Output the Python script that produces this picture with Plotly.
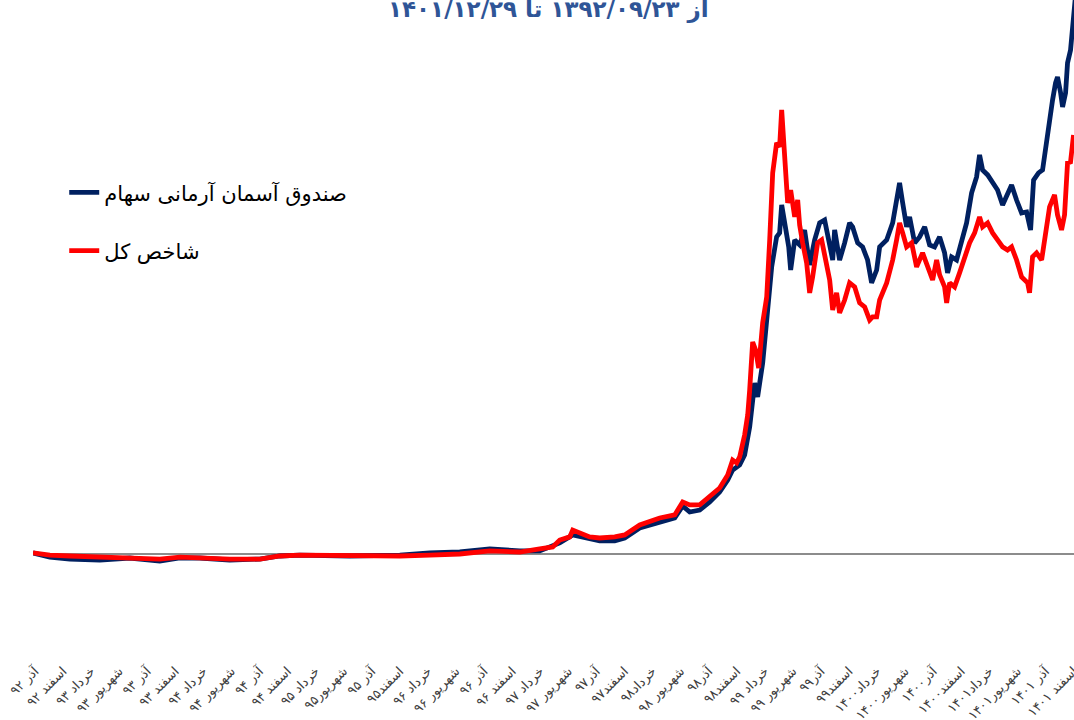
import plotly.graph_objects as go

# Month index since Azar 1392 (0 = Azar 92), cumulative return in percent
fund_month = [-0.2, 1.6, 3.74, 6.94, 10.15, 13.35, 15.49, 17.63, 20.83, 24.04, 26.18, 28.31, 33.65, 39.0,
              42.2, 45.41, 48.61, 51.82, 53.95, 56.09, 57.48, 58.76, 60.36, 61.97, 63.03, 64.64, 66.77,
              68.38, 69.23, 69.98, 71.05, 72.12, 73.18, 74.04, 74.57, 75.32, 75.85, 76.39, 76.92, 77.24,
              77.78, 78.31, 78.74, 79.27, 79.59, 79.81, 80.13, 80.56, 80.77, 81.2, 81.73, 82.26, 82.8,
              83.33, 83.87, 84.4, 84.94, 85.26, 85.47, 86.0, 86.54, 87.07, 87.39, 87.93, 88.46, 88.99,
              89.42, 89.96, 90.28, 91.03, 91.67, 92.09, 92.41, 92.74, 93.16, 93.48, 94.02, 94.55, 95.09,
              95.62, 96.15, 96.69, 97.22, 97.54, 97.97, 98.5, 99.04, 99.57, 100.11, 100.64, 100.96,
              101.28, 101.82, 102.35, 102.88, 103.42, 103.85, 104.38, 104.91, 105.45, 105.98, 106.41,
              106.73, 107.26, 107.69, 108.01, 108.44, 108.76, 109.08, 109.29, 109.62, 109.83, 110.15,
              110.36, 110.68, 110.9, 111.22]
fund_return = [6, -17, -28, -33, -22, -39, -22, -22, -33, -28, -11, -6, -11, -6,
               6, 11, 28, 17, 17, 61, 105, 88, 72, 72, 88, 143, 176,
               198, 264, 231, 242, 286, 341, 407, 462, 490, 545, 699, 941, 864,
               1051, 1381, 1579, 1744, 1766, 1920, 1821, 1689, 1562, 1727, 1700, 1782, 1590,
               1727, 1821, 1837, 1700, 1617, 1782, 1617, 1711, 1821, 1799, 1711, 1689, 1617,
               1491, 1562, 1689, 1727, 1821, 1947, 2041, 1931, 1799, 1854, 1711, 1744, 1799,
               1700, 1689, 1744, 1656, 1546, 1634, 1617, 1711, 1821, 1986, 2074, 2195,
               2112, 2085, 2041, 2002, 1920, 1964, 2030, 1947, 1876, 1881, 1782,
               2057, 2096, 2112, 2239, 2387, 2497, 2591, 2624, 2536, 2459, 2536,
               2701, 2772, 2937, 3075]

index_month = [-0.2, 1.6, 3.74, 6.94, 10.15, 13.35, 15.49, 17.63, 20.83, 24.04, 26.18, 28.31, 33.65, 39.0,
               42.2, 45.41, 48.61, 51.82, 53.95, 55.34, 56.09, 57.16, 57.48, 58.23, 59.29, 60.36, 61.97,
               63.03, 64.64, 66.77, 68.38, 69.23, 69.98, 71.05, 72.12, 73.18, 74.04, 74.57, 75.0, 75.32,
               75.85, 76.18, 76.39, 76.71, 77.03, 77.35, 77.78, 78.21, 78.53, 78.85, 79.27, 79.59, 79.81,
               80.13, 80.45, 80.77, 81.2, 81.52, 81.73, 82.05, 82.48, 82.8, 83.12, 83.65, 84.08, 84.51,
               84.94, 85.26, 85.68, 86.0, 86.54, 87.07, 87.61, 88.14, 88.68, 89.21, 89.53, 89.96, 90.28,
               91.03, 91.67, 92.09, 92.41, 92.74, 93.16, 93.7, 94.23, 94.87, 95.62, 95.94, 96.37, 96.69,
               97.22, 97.44, 97.76, 98.29, 98.82, 99.36, 99.89, 100.43, 100.96, 101.28, 101.82, 102.35,
               102.88, 103.42, 103.95, 104.38, 104.91, 105.45, 106.09, 106.3, 106.62, 107.05, 107.59,
               107.91, 108.44, 108.97, 109.29, 109.72, 110.04, 110.36, 110.68, 111.0]
index_return = [6, -6, -11, -17, -17, -28, -17, -22, -28, -28, -11, -6, -11, -11,
                -6, 0, 17, 11, 28, 39, 77, 94, 132, 116, 94, 88, 94,
                105, 160, 198, 215, 286, 270, 270, 314, 363, 435, 517, 501, 534,
                655, 765, 902, 1166, 1122, 1023, 1271, 1414, 1727, 2096, 2261, 2239, 2442,
                2184, 1931, 2002, 1854, 1947, 1810, 1711, 1601, 1436, 1524, 1711, 1727, 1617,
                1507, 1342, 1436, 1326, 1397, 1491, 1469, 1381, 1359, 1287, 1304, 1304, 1397,
                1491, 1617, 1727, 1821, 1766, 1689, 1711, 1579, 1656, 1551, 1507, 1617, 1535,
                1469, 1381, 1491, 1469, 1546, 1634, 1711, 1766, 1854, 1799, 1821, 1766,
                1727, 1689, 1672, 1689, 1617, 1524, 1491, 1436, 1634, 1656, 1617,
                1727, 1909, 1975, 1865, 1782, 1865, 2151, 2156, 2305]

tick_vals = list(range(0, 112, 3))
tick_text = ["آذر ۹۲", "اسفند ۹۲", "خرداد ۹۳", "شهریور ۹۳", "آذر ۹۳", "اسفند ۹۳", "خرداد ۹۴",
             "شهریور ۹۴", "آذر ۹۴", "اسفند ۹۴", "خرداد ۹۵", "شهریور۹۵", "آذر ۹۵", "اسفند۹۵",
             "خرداد ۹۶", "شهریور ۹۶", "آذر ۹۶", "اسفند ۹۶", "خرداد ۹۷", "شهریور ۹۷", "آذر۹۷",
             "اسفند۹۷", "خرداد۹۸", "شهریور ۹۸", "آذر۹۸", "اسفند۹۸", "خرداد ۹۹", "شهریور ۹۹",
             "آذر۹۹", "اسفند۹۹", "خرداد۱۴۰۰", "شهریور۱۴۰۰", "آذر۱۴۰۰", "اسفند۱۴۰۰", "خرداد۱۴۰۱",
             "شهریور۱۴۰۱", "آذر ۱۴۰۱", "اسفند ۱۴۰۱"]

fund_name = "صندوق آسمان آرمانی سهام"
index_name = "شاخص کل"
title_text = "از ۱۳۹۲/۰۹/۲۳ تا ۱۴۰۱/۱۲/۲۹"

fig = go.Figure()
fig.add_trace(go.Scatter(x=fund_month, y=fund_return, mode="lines", name=fund_name,
                         legendgroup="a", line=dict(color="#002060", width=4.8)))
fig.add_trace(go.Scatter(x=index_month, y=index_return, mode="lines", name=index_name,
                         legendgroup="b", line=dict(color="#FF0000", width=4.8)))

fig.update_layout(
    width=1074, height=720,
    margin=dict(l=33, r=0, t=0, b=60),
    plot_bgcolor="white", paper_bgcolor="white",
    font=dict(family="DejaVu Sans", color="#000000"),
    showlegend=True,
    legend=dict(x=0.03, y=0.739, xanchor="left", yanchor="top",
                font=dict(size=21, family="DejaVu Sans", color="#000000"),
                traceorder="grouped", tracegroupgap=28, bgcolor="rgba(0,0,0,0)"),
    xaxis=dict(range=[-0.2, 111.05], tickmode="array", tickvals=tick_vals, ticktext=tick_text,
               tickangle=-45, tickfont=dict(size=13, color="#404040", family="DejaVu Sans"),
               ticklabeloverflow="allow",
               showgrid=False, zeroline=False, showline=False, ticks="", automargin=False),
    yaxis=dict(range=[-583, 3047], showgrid=False, showticklabels=False, ticks="",
               zeroline=True, zerolinecolor="#8c8c8c", zerolinewidth=1.5, showline=False,
               automargin=False),
    annotations=[dict(text="<b>" + title_text + "</b>", xref="paper", yref="paper",
                      x=0.495, y=0.986, xanchor="center", yanchor="middle", showarrow=False,
                      font=dict(size=23, color="#2F5597", family="DejaVu Sans"))],
)

fig.write_html("out.html", config={"displayModeBar": False},
               post_script="document.body.style.margin='0px';")
